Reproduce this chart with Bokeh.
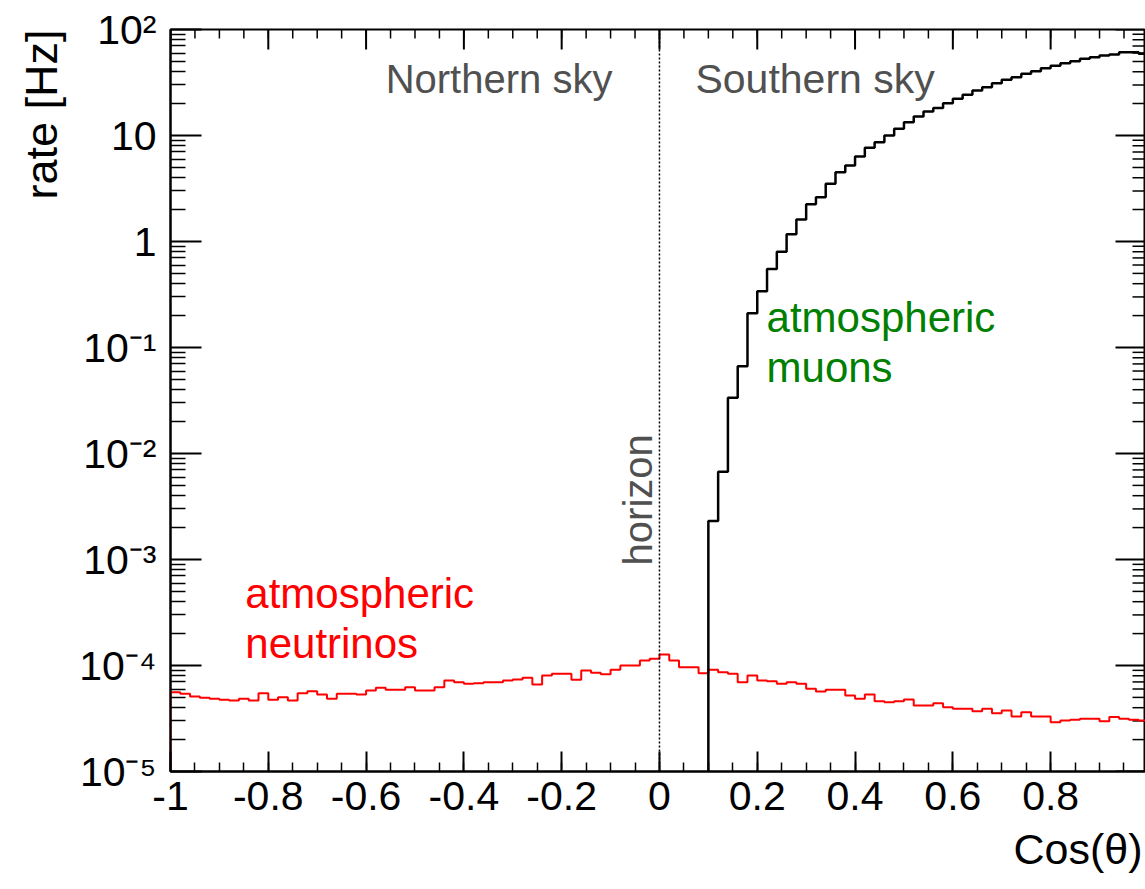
import numpy as np
from bokeh.plotting import figure
from bokeh.models import (FixedTicker, CustomJSTickFormatter, Label, Span, Range1d, Title)
from bokeh.embed import file_html
from bokeh.resources import INLINE

# ---------------- data ----------------
BIN_WIDTH = 0.02
NU_START = -1.0
MU_START = 0.1
HORIZON = 0.0

# atmospheric neutrinos rate [Hz], 100 bins of 0.02 from -1 to 1
nu_rate = [
    5.60e-5, 5.41e-5, 5.10e-5, 4.96e-5, 4.86e-5, 4.75e-5, 4.68e-5, 4.86e-5, 4.68e-5, 5.48e-5,
    4.75e-5, 5.02e-5, 4.68e-5, 5.48e-5, 5.72e-5, 5.33e-5, 4.86e-5, 5.41e-5, 5.41e-5, 5.33e-5,
    5.81e-5, 6.16e-5, 5.90e-5, 5.90e-5, 6.24e-5, 5.81e-5, 5.81e-5, 6.24e-5, 7.22e-5, 6.96e-5,
    6.72e-5, 6.81e-5, 6.96e-5, 6.96e-5, 7.22e-5, 7.38e-5, 7.66e-5, 6.62e-5, 8.04e-5, 8.35e-5,
    8.35e-5, 7.33e-5, 8.97e-5, 8.53e-5, 8.28e-5, 9.11e-5, 1.00e-4, 1.00e-4, 1.115e-4, 1.157e-4,
    1.27e-4, 1.115e-4, 9.64e-5, 9.64e-5, 8.46e-5, 9.11e-5, 8.64e-5, 8.35e-5, 6.96e-5, 8.04e-5,
    7.22e-5, 7.11e-5, 6.72e-5, 6.96e-5, 6.72e-5, 6.03e-5, 5.69e-5, 5.90e-5, 5.90e-5, 5.21e-5,
    4.86e-5, 5.33e-5, 4.61e-5, 4.51e-5, 4.61e-5, 4.78e-5, 4.20e-5, 4.20e-5, 4.41e-5, 4.04e-5,
    3.90e-5, 3.90e-5, 3.70e-5, 3.90e-5, 3.55e-5, 3.76e-5, 3.31e-5, 3.62e-5, 3.31e-5, 3.31e-5,
    2.92e-5, 3.03e-5, 3.08e-5, 3.14e-5, 3.14e-5, 2.98e-5, 3.26e-5, 3.14e-5, 3.08e-5, 3.03e-5,
]

# atmospheric muons rate [Hz], 45 bins of 0.02 from 0.1 to 1
mu_rate = [
    2.31e-3, 6.73e-3, 3.35e-2, 6.65e-2, 0.211, 0.339, 0.551, 0.802, 1.17, 1.61,
    2.24, 2.62, 3.50, 4.51, 5.21, 6.34, 7.66, 8.65, 10.0, 11.6,
    13.3, 15.1, 16.8, 18.2, 20.2, 22.2, 24.2, 26.6, 28.6, 31.1,
    33.5, 35.5, 38.2, 40.4, 43.2, 45.5, 48.1, 50.2, 52.9, 54.8,
    56.9, 58.1, 61.1, 61.1, 59.0,
]

x_ticks = [-1.0, -0.8, -0.6, -0.4, -0.2, 0.0, 0.2, 0.4, 0.6, 0.8, 1.0]
x_tick_labels = ["-1", "-0.8", "-0.6", "-0.4", "-0.2", "0", "0.2", "0.4", "0.6", "0.8", "1"]
y_ticks = [1e-5, 1e-4, 1e-3, 1e-2, 1e-1, 1.0, 10.0, 100.0]
y_tick_labels = ["10⁻⁵", "10⁻⁴", "10⁻³", "10⁻²", "10⁻¹", "1", "10", "10²"]

X_LABEL = "Cos(θ)"
Y_LABEL = "rate [Hz]"

X_RANGE = (-1.0, 0.994)
Y_RANGE = (1e-5, 1e2)

FONT = "Liberation Sans"
W, H = 1145, 889


def step_path(x0, values, floor):
    edges = x0 + BIN_WIDTH * np.arange(len(values) + 1)
    xs = [edges[0]]
    ys = [floor]
    for i, v in enumerate(values):
        xs += [edges[i], edges[i + 1]]
        ys += [v, v]
    return xs, ys


p = figure(width=W, height=H,
           x_range=Range1d(*X_RANGE), y_range=Range1d(*Y_RANGE),
           y_axis_type="log", output_backend="svg", toolbar_location=None,
           min_border_left=170, min_border_right=0, min_border_top=29, min_border_bottom=118)
p.grid.visible = False
p.background_fill_color = "white"
p.border_fill_color = "white"
p.outline_line_color = "black"
p.outline_line_width = 2

x_minor = [round(-1 + 0.05 * i, 4) for i in range(41)]
y_minor = [m * 10.0 ** k for k in range(-5, 2) for m in range(2, 10)]

xticker = FixedTicker(ticks=x_ticks, minor_ticks=x_minor)
yticker = FixedTicker(ticks=y_ticks, minor_ticks=y_minor)

xfmt = CustomJSTickFormatter(args=dict(vals=x_ticks, labels=x_tick_labels), code="""
for (let i = 0; i < vals.length; i++) { if (Math.abs(vals[i] - tick) < 1e-9) return labels[i]; }
return "";
""")
yfmt = CustomJSTickFormatter(args=dict(vals=y_ticks, labels=y_tick_labels), code="""
for (let i = 0; i < vals.length; i++) { if (Math.abs(Math.log10(vals[i]) - Math.log10(tick)) < 1e-6) return labels[i]; }
return "";
""")

# bottom axis
xa = p.xaxis[0]
xa.ticker = xticker
xa.formatter = xfmt
xa.major_label_text_font = FONT
xa.major_label_text_font_size = "41px"
xa.major_label_text_color = "black"
xa.major_label_standoff = 10
xa.major_tick_in = 20
xa.major_tick_out = 0
xa.minor_tick_in = 9
xa.minor_tick_out = 0
xa.axis_line_width = 2
xa.major_tick_line_width = 2
xa.minor_tick_line_width = 1.5

# left axis
ya = p.yaxis[0]
ya.ticker = yticker
ya.formatter = yfmt
ya.major_label_text_font = FONT
ya.major_label_text_font_size = "41px"
ya.major_label_text_color = "black"
ya.major_label_standoff = 14
ya.major_tick_in = 31
ya.major_tick_out = 0
ya.minor_tick_in = 15
ya.minor_tick_out = 0
ya.axis_line_width = 2
ya.major_tick_line_width = 2
ya.minor_tick_line_width = 1.5

# axis titles at the end of each axis (ROOT style)
p.add_layout(Title(text=X_LABEL, align="right", text_font=FONT, text_font_size="43px",
                   text_font_style="normal", text_color="black", offset=3, standoff=20), "below")
p.add_layout(Title(text=Y_LABEL, align="right", text_font=FONT, text_font_size="45px",
                   text_font_style="normal", text_color="black", offset=0, standoff=20), "left")

# mirrored tick marks on top and right frame edges (screen-length rays)
x_right = X_RANGE[1]
y_top = Y_RANGE[1]
p.ray(x=x_ticks, y=[y_top] * len(x_ticks), length=20, length_units="screen",
      angle=-np.pi / 2, line_color="black", line_width=2)
p.ray(x=x_minor, y=[y_top] * len(x_minor), length=9, length_units="screen",
      angle=-np.pi / 2, line_color="black", line_width=1.5)
p.ray(x=[x_right] * len(y_ticks), y=y_ticks, length=30, length_units="screen",
      angle=np.pi, line_color="black", line_width=2)
p.ray(x=[x_right] * len(y_minor), y=y_minor, length=13, length_units="screen",
      angle=np.pi, line_color="black", line_width=1.5)

# horizon
p.add_layout(Span(location=HORIZON, dimension="height", line_color="black",
                  line_dash="2 2", line_width=1.5))

# histograms
nx, ny = step_path(NU_START, nu_rate, Y_RANGE[0])
p.line(nx, ny, line_color="#ff0000", line_width=2)
mx, my = step_path(MU_START, mu_rate, Y_RANGE[0])
p.line(mx, my, line_color="black", line_width=2.5)


def lab(x, y, text, color, size=40, angle=0.0):
    p.add_layout(Label(x=x, y=y, text=text, text_color=color, text_font=FONT,
                       text_font_size=f"{size}px", text_baseline="alphabetic",
                       text_align="left", angle=angle))


# annotations
lab(-0.560, 34.0, "Northern sky", "#505050", 40)
lab(0.0736, 34.0, "Southern sky", "#505050", 41)
lab(-0.0447, 8.8e-4, "horizon", "#505050", 40, angle=np.pi / 2)
lab(0.219, 0.190, "atmospheric", "#008000", 42)
lab(0.219, 0.0645, "muons", "#008000", 42)
lab(-0.847, 4.75e-4, "atmospheric", "#ff0000", 42)
lab(-0.847, 1.60e-4, "neutrinos", "#ff0000", 42)

open("out.html", "w").write(file_html(p, INLINE))
